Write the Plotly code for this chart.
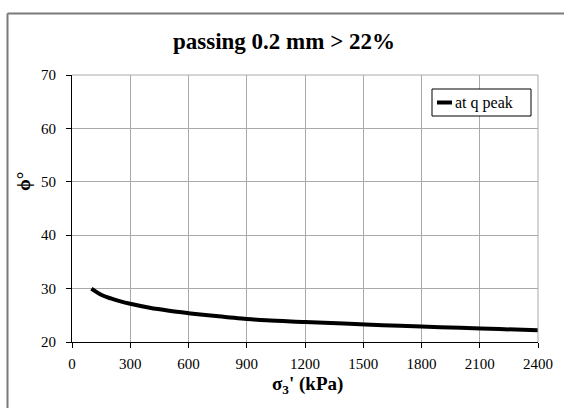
import plotly.graph_objects as go

# Data
sigma3 = [100, 150, 200, 250, 300, 400, 500, 600, 700, 800, 900, 1000,
          1200, 1400, 1600, 1800, 2000, 2200, 2400]
phi_q_peak = [30.0, 28.85, 28.15, 27.6, 27.15, 26.4, 25.85, 25.4, 25.0, 24.65, 24.3, 24.05,
              23.75, 23.45, 23.15, 22.9, 22.65, 22.42, 22.2]
x_ticks = [0, 300, 600, 900, 1200, 1500, 1800, 2100, 2400]
y_ticks = [20, 30, 40, 50, 60, 70]
title_text = "passing 0.2 mm > 22%"
series_name = "at q peak"

W, H = 564, 408
L, R, T, B = 72, 26, 75, 66
pw, ph = W - L - R, H - T - B

def px(xp):
    return (xp - L) / pw

def py(yp):
    return (H - B - yp) / ph

FONT = "Liberation Serif, Times New Roman, serif"
GRID = "#aaaaaa"
FRAME = "#7a7a7a"

fig = go.Figure()
fig.add_trace(go.Scatter(x=sigma3, y=phi_q_peak, mode="lines", name=series_name,
                         line=dict(color="black", width=4, shape="spline"),
                         showlegend=False, hoverinfo="skip"))

fig.update_layout(
    width=W, height=H,
    margin=dict(l=L, r=R, t=T, b=B),
    paper_bgcolor="white", plot_bgcolor="white",
    font=dict(family=FONT, size=15, color="black"),
    title=dict(text="<b>" + title_text + "</b>", xref="container", yref="container",
               x=284 / W, y=1 - 41 / H, xanchor="center", yanchor="middle",
               font=dict(family=FONT, size=23, color="black")),
    xaxis=dict(range=[0, 2400], tickvals=x_ticks, showgrid=True, gridcolor=GRID,
               gridwidth=1, showline=True, linecolor="black", linewidth=1,
               ticks="outside", ticklen=5, tickcolor="black", zeroline=False,
               tickfont=dict(family=FONT, size=15), ticklabelstandoff=3),
    yaxis=dict(range=[20, 70], tickvals=y_ticks, showgrid=True, gridcolor=GRID,
               gridwidth=1, showline=True, linecolor="black", linewidth=1,
               ticks="outside", ticklen=5, tickcolor="black", zeroline=False,
               tickfont=dict(family=FONT, size=15), ticklabelstandoff=7),
    showlegend=False,
)

shapes = [
    # outer chart frame: left and top edges (continues beyond the picture)
    dict(type="line", xref="paper", yref="paper", x0=px(7.5), x1=px(7.5),
         y0=py(408), y1=py(13.5), line=dict(color=FRAME, width=2), layer="below"),
    dict(type="line", xref="paper", yref="paper", x0=px(7.5), x1=px(564),
         y0=py(13.5), y1=py(13.5), line=dict(color=FRAME, width=2), layer="below"),
    # top and right plot borders (grey)
    dict(type="line", xref="paper", yref="paper", x0=0, x1=1, y0=1, y1=1,
         line=dict(color=GRID, width=1)),
    dict(type="line", xref="paper", yref="paper", x0=1, x1=1, y0=0, y1=1,
         line=dict(color=GRID, width=1)),
    # legend box
    dict(type="rect", xref="paper", yref="paper", x0=px(432), x1=px(531),
         y0=py(116), y1=py(89), line=dict(color="black", width=1), fillcolor="white"),
    # legend line sample
    dict(type="line", xref="paper", yref="paper", x0=px(437), x1=px(452),
         y0=py(102.5), y1=py(102.5), line=dict(color="black", width=4)),
]

annotations = [
    dict(text=series_name, xref="paper", yref="paper", x=px(453), y=py(102.5),
         xanchor="left", yanchor="middle", showarrow=False,
         font=dict(family=FONT, size=16, color="black")),
    dict(text="<b>σ<sub>3</sub>' (kPa)</b>", xref="paper", yref="paper",
         x=px(307), y=py(385), xanchor="center", yanchor="middle", showarrow=False,
         font=dict(family=FONT, size=19, color="black")),
    dict(text="<b>ϕ°</b>", xref="paper", yref="paper", x=px(23), y=py(182),
         xanchor="center", yanchor="middle", showarrow=False, textangle=-90,
         font=dict(family=FONT, size=19, color="black")),
]

fig.update_layout(shapes=shapes, annotations=annotations)
fig.write_html(
    "out.html", config={"displayModeBar": False},
    post_script=("document.documentElement.style.margin='0';"
                 "document.documentElement.style.overflow='hidden';"
                 "document.body.style.margin='0';document.body.style.padding='0';"
                 "document.body.style.overflow='hidden';"))
